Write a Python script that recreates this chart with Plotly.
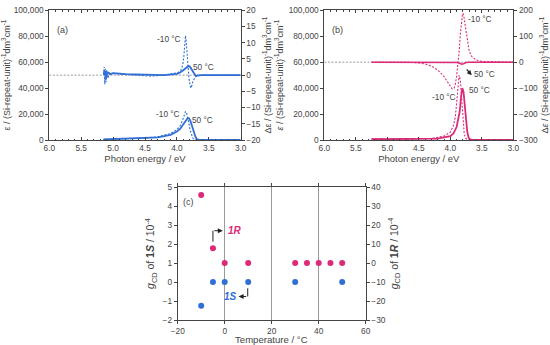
import plotly.graph_objects as go

# ---------------- data ----------------
# Panel (a) – blue, 1S
a_eps_m10_E = [5.15, 5.0, 4.7, 4.5, 4.3, 4.1, 4.0, 3.95, 3.92, 3.9, 3.88, 3.865, 3.85, 3.83, 3.81, 3.79, 3.77, 3.75, 3.73, 3.71, 3.6, 3.3, 3.0]
a_eps_m10 = [500, 700, 1000, 1500, 2500, 5000, 8000, 11000, 14000, 17000, 20500, 22000, 21000, 17500, 12500, 7000, 3500, 1500, 400, 0, 0, 0, 0]
a_eps_50_E = [5.15, 5.0, 4.7, 4.5, 4.3, 4.1, 4.0, 3.95, 3.9, 3.87, 3.85, 3.83, 3.81, 3.79, 3.77, 3.75, 3.73, 3.71, 3.69, 3.66, 3.6, 3.3, 3.0]
a_eps_50 = [400, 600, 900, 1200, 2000, 4000, 6500, 8500, 12000, 14500, 16000, 17000, 16800, 15000, 12000, 8500, 5000, 2500, 800, 100, 0, 0, 0]
a_de_m10_E = [5.15, 5.14, 5.13, 5.12, 5.11, 5.10, 5.08, 5.06, 5.03, 5.0, 4.9, 4.8, 4.6, 4.4, 4.2, 4.05, 3.98, 3.94, 3.91, 3.89, 3.875, 3.865, 3.855, 3.84, 3.825, 3.81, 3.795, 3.78, 3.765, 3.75, 3.72, 3.69, 3.6, 3.3, 3.0]
a_de_m10 = [0.0, 2.5, -2.8, 2.0, -2.2, 1.5, -1.0, 1.0, 0.3, 0.6, 0.3, 0.2, 0.0, -0.3, 0.0, 0.4, 0.8, 1.5, 3.0, 6.0, 10.0, 12.2, 10.5, 6.0, 2.0, -1.0, -3.0, -4.0, -3.2, -2.0, -0.8, -0.2, 0.0, 0.0, 0.0]
a_de_50_E = [5.15, 5.13, 5.11, 5.09, 5.05, 5.0, 4.8, 4.6, 4.4, 4.2, 4.0, 3.95, 3.9, 3.87, 3.84, 3.82, 3.8, 3.78, 3.76, 3.74, 3.72, 3.7, 3.67, 3.6, 3.4, 3.2, 3.0]
a_de_50 = [0.5, 1.5, -1.0, 1.0, 0.3, 0.6, 0.3, 0.2, -0.1, 0.0, 0.4, 0.8, 1.5, 2.1, 2.6, 2.8, 2.7, 2.2, 1.5, 0.8, 0.2, -0.3, -0.1, 0.0, 0.0, 0.1, 0.0]

# Panel (b) – pink, 1R
b_eps_m10_E = [5.25, 5.2, 5.1, 5.0, 4.7, 4.5, 4.3, 4.1, 4.0, 3.95, 3.92, 3.9, 3.88, 3.86, 3.84, 3.82, 3.8, 3.78, 3.76, 3.74, 3.72, 3.6, 3.3, 3.0]
b_eps_m10 = [800, 1200, 800, 600, 600, 700, 1200, 3000, 6000, 11000, 18000, 28000, 40000, 50000, 46000, 31000, 15000, 5500, 1500, 400, 0, 0, 0, 0]
b_eps_50_E = [5.25, 5.1, 5.0, 4.7, 4.5, 4.2, 4.0, 3.95, 3.9, 3.87, 3.85, 3.83, 3.81, 3.79, 3.77, 3.75, 3.73, 3.71, 3.69, 3.66, 3.6, 3.3, 3.0]
b_eps_50 = [600, 600, 500, 500, 500, 1000, 3000, 5000, 10000, 16000, 22000, 33000, 40000, 37000, 26000, 14000, 6000, 2000, 600, 100, 0, 0, 0]
b_de_m10_E = [5.25, 5.0, 4.8, 4.6, 4.5, 4.4, 4.3, 4.2, 4.1, 4.05, 4.0, 3.97, 3.94, 3.92, 3.9, 3.88, 3.86, 3.84, 3.82, 3.805, 3.79, 3.775, 3.76, 3.74, 3.72, 3.7, 3.66, 3.6, 3.5, 3.3, 3.0]
b_de_m10 = [0, 0, 0, -1, -3, -7, -15, -30, -55, -75, -95, -103, -100, -85, -55, -15, 40, 110, 165, 188, 185, 160, 125, 90, 62, 42, 22, 10, 3, 1, 0]
b_de_50_E = [5.25, 5.15, 5.0, 4.6, 4.2, 3.95, 3.88, 3.85, 3.82, 3.79, 3.76, 3.72, 3.65, 3.4, 3.0]
b_de_50 = [0, 0, 0, 0, 0, 0, -1, -4, -8, -6, -2, -0.5, 0, 0, 0]

# Panel (c) – dissymmetry factors
temps_1R = [-10, -5, 0, 10, 30, 35, 40, 45, 50]
gcd_1R = [35.8, 7.7, 0, 0, 0, 0, 0, 0, 0]          # right axis, 10^-4
temps_1S = [-10, -5, 0, 10, 30, 50]
gcd_1S = [-1.25, 0, 0, 0, 0, 0]                     # left axis, 10^-4

energy_ticks = [6.0, 5.5, 5.0, 4.5, 4.0, 3.5, 3.0]

BLUE = "#2f6fd6"
PINK = "#dc2a78"
AX = "#444444"
FONT = "Liberation Sans"
DOT = "2px,1.6px"

fig = go.Figure()

# ---- panel (a)
fig.add_trace(go.Scatter(x=[6.0, 3.0], y=[0, 0], xaxis="x", yaxis="y2", mode="lines",
                         line=dict(color="#999999", width=1, dash=DOT)))
fig.add_trace(go.Scatter(x=a_de_m10_E, y=a_de_m10, xaxis="x", yaxis="y2", mode="lines",
                         line=dict(color=BLUE, width=1.1, dash=DOT)))
fig.add_trace(go.Scatter(x=a_de_50_E, y=a_de_50, xaxis="x", yaxis="y2", mode="lines",
                         line=dict(color=BLUE, width=1.8)))
fig.add_trace(go.Scatter(x=a_eps_m10_E, y=a_eps_m10, xaxis="x", yaxis="y", mode="lines",
                         line=dict(color=BLUE, width=1.1, dash=DOT)))
fig.add_trace(go.Scatter(x=a_eps_50_E, y=a_eps_50, xaxis="x", yaxis="y", mode="lines",
                         line=dict(color=BLUE, width=1.8)))

# ---- panel (b)
fig.add_trace(go.Scatter(x=[6.0, 3.0], y=[0, 0], xaxis="x2", yaxis="y4", mode="lines",
                         line=dict(color="#999999", width=1, dash=DOT)))
fig.add_trace(go.Scatter(x=b_de_m10_E, y=b_de_m10, xaxis="x2", yaxis="y4", mode="lines",
                         line=dict(color=PINK, width=1.1, dash=DOT)))
fig.add_trace(go.Scatter(x=b_de_50_E, y=b_de_50, xaxis="x2", yaxis="y4", mode="lines",
                         line=dict(color=PINK, width=1.6)))
fig.add_trace(go.Scatter(x=b_eps_m10_E, y=b_eps_m10, xaxis="x2", yaxis="y3", mode="lines",
                         line=dict(color=PINK, width=1.1, dash=DOT)))
fig.add_trace(go.Scatter(x=b_eps_50_E, y=b_eps_50, xaxis="x2", yaxis="y3", mode="lines",
                         line=dict(color=PINK, width=1.8)))

# ---- panel (c)
fig.add_trace(go.Scatter(x=temps_1R, y=gcd_1R, xaxis="x3", yaxis="y6", mode="markers",
                         marker=dict(color=PINK, size=6)))
fig.add_trace(go.Scatter(x=temps_1S, y=gcd_1S, xaxis="x3", yaxis="y5", mode="markers",
                         marker=dict(color=BLUE, size=6)))

tickfont = dict(family=FONT, size=8.3, color=AX)

def xax(domain, anchor, title):
    return dict(domain=domain, anchor=anchor, range=[6.0, 3.0], automargin=False,
                tickmode="array", tickvals=energy_ticks, ticktext=[f"{v:.1f}" for v in energy_ticks],
                showgrid=False, zeroline=False, showline=True, linecolor=AX, linewidth=1,
                mirror="ticks", ticks="inside", ticklen=3, tickcolor=AX,
                minor=dict(dtick=0.1, tick0=3.0, ticks="inside", ticklen=1.5, tickcolor=AX),
                tickfont=tickfont,
                title=dict(text=title, font=dict(family=FONT, size=9.5, color=AX), standoff=0))

def yax(domain, anchor, rng, dtick, title, side="left", overlay=None, fmt=None, standoff=3, tsize=9):
    d = dict(domain=domain, anchor=anchor, range=rng, dtick=dtick, tick0=rng[0], side=side,
             automargin=False,
             showgrid=False, zeroline=False, showline=True, linecolor=AX, linewidth=1,
             ticks="outside", ticklen=3, tickcolor=AX, tickfont=tickfont,
             title=dict(text=title, font=dict(family=FONT, size=tsize, color=AX), standoff=standoff))
    if overlay:
        d["overlaying"] = overlay
    if fmt:
        d["tickformat"] = fmt
    return d

W, H = 550, 345
def fx(a, b): return [a / W, b / W]
def fy(top, bot): return [1 - bot / H, 1 - top / H]

dom_a = fx(49.3, 240.7); dom_b = fx(324.3, 513.3); dom_c = fx(177.7, 365.7)
ydom_ab = fy(10.3, 140); ydom_c = fy(187, 320)

unit = " / (Si-repeat-unit)<sup>-1</sup>dm<sup>3</sup>cm<sup>-1</sup>"

fig.update_layout(
    width=W, height=H, margin=dict(l=0, r=0, t=0, b=0),
    paper_bgcolor="white", plot_bgcolor="white", showlegend=False,
    font=dict(family=FONT, color=AX),
    xaxis=xax(dom_a, "y", "Photon energy / eV"),
    yaxis=yax(ydom_ab, "x", [0, 100000], 20000, "ε" + unit, fmt=",d"),
    yaxis2=yax(ydom_ab, "x", [-20, 20], 5, "Δε" + unit, side="right", overlay="y"),
    xaxis2=xax(dom_b, "y3", "Photon energy / eV"),
    yaxis3=yax(ydom_ab, "x2", [0, 100000], 20000, "<i>ε</i>" + unit, fmt=",d"),
    yaxis4=yax(ydom_ab, "x2", [-300, 200], 100, "Δ<i>ε</i>" + unit, side="right", overlay="y3"),
    xaxis3=dict(domain=dom_c, anchor="y5", range=[-20, 60], dtick=20, tick0=-20, automargin=False,
                showgrid=True, gridcolor="#9a9a9a", gridwidth=1, zeroline=False, showline=True,
                linecolor=AX, mirror="ticks", ticks="outside", ticklen=3, tickcolor=AX,
                tickfont=tickfont),
    yaxis5=yax(ydom_c, "x3", [-2, 5], 1, "<i>g</i><sub>CD</sub> of <b>1<i>S</i></b> / 10<sup>-4</sup>",
               standoff=5, tsize=10.5),
    yaxis6=yax(ydom_c, "x3", [-30, 40], 10, "<i>g</i><sub>CD</sub> of <b>1<i>R</i></b> / 10<sup>-4</sup>",
               side="right", overlay="y5", standoff=5, tsize=10.5),
)

def lab(text, x, y, xr, yr, size=8.3, **kw):
    fig.add_annotation(text=text, x=x, y=y, xref=xr, yref=yr, showarrow=False,
                       font=dict(family=FONT, size=size, color=AX), **kw)

# x-axis title of panel (c)
lab("Temperature / °C", 0.5, 1 - 339.5 / H, "x3 domain", "paper", size=9.6, yanchor="middle")

# panel labels
lab("(a)", 0.03, 0.905, "x domain", "y domain", size=9, xanchor="left")
lab("(b)", 0.03, 0.905, "x2 domain", "y3 domain", size=9, xanchor="left")
lab("(c)", 0.02, 0.94, "x3 domain", "y5 domain", size=9, xanchor="left")

# panel (a) curve labels
lab("-10 °C", 4.12, 77900, "x", "y")
lab("50 °C", 3.58, 56500, "x", "y")
lab("-10 °C", 4.14, 20000, "x", "y")
lab("50 °C", 3.60, 15400, "x", "y")
# panel (b) curve labels
lab("-10 °C", 3.53, 93300, "x2", "y3")
lab("50 °C", 3.46, 50900, "x2", "y3")
lab("-10 °C", 4.10, 32900, "x2", "y3")
lab("50 °C", 3.54, 38500, "x2", "y3")
fig.add_annotation(x=3.66, y=50000, ax=3.76, ay=55500, xref="x2", yref="y3", axref="x2", ayref="y3",
                   showarrow=True, arrowhead=2, arrowsize=0.8, arrowwidth=1.2, arrowcolor="#222", text="")

# panel (c) labels with elbow arrows
fig.add_annotation(text="<b><i>1R</i></b>", x=4.2, y=2.7, xref="x3", yref="y5", showarrow=False,
                   font=dict(family=FONT, size=10, color=PINK))
fig.add_annotation(text="<b><i>1S</i></b>", x=2.4, y=-0.76, xref="x3", yref="y5", showarrow=False,
                   font=dict(family=FONT, size=10, color=BLUE))
fig.add_shape(type="line", x0=-5, x1=-5, y0=2.12, y1=2.7, xref="x3", yref="y5", line=dict(color="#222", width=1))
fig.add_annotation(x=-0.8, y=2.7, ax=-5, ay=2.7, xref="x3", yref="y5", axref="x3", ayref="y5",
                   showarrow=True, arrowhead=2, arrowsize=1, arrowwidth=1, arrowcolor="#222", text="")
fig.add_shape(type="line", x0=9.8, x1=9.8, y0=-0.33, y1=-0.76, xref="x3", yref="y5", line=dict(color="#222", width=1))
fig.add_annotation(x=5.9, y=-0.76, ax=9.8, ay=-0.76, xref="x3", yref="y5", axref="x3", ayref="y5",
                   showarrow=True, arrowhead=2, arrowsize=1, arrowwidth=1, arrowcolor="#222", text="")

fig.write_html("out.html", config={"displayModeBar": False},
               post_script="document.body.style.margin='0';document.body.style.padding='0';")
